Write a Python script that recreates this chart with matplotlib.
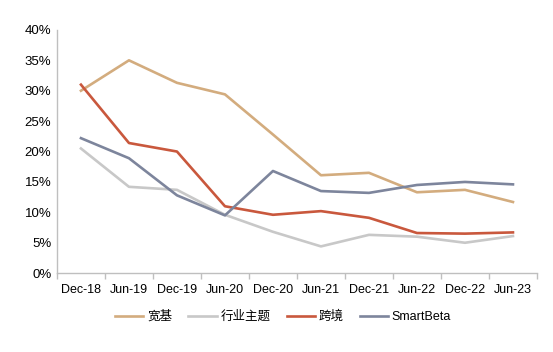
import numpy as np
import matplotlib.pyplot as plt
from matplotlib.ticker import PercentFormatter

plt.rcParams['font.family'] = ['Liberation Sans', 'Noto Sans CJK SC', 'DejaVu Sans']

# data
dates = ['Dec-18', 'Jun-19', 'Dec-19', 'Jun-20', 'Dec-20',
         'Jun-21', 'Dec-21', 'Jun-22', 'Dec-22', 'Jun-23']
broad = [30.0, 35.0, 31.3, 29.4, 22.8, 16.1, 16.5, 13.3, 13.7, 11.7]
sector = [20.5, 14.2, 13.7, 9.6, 6.8, 4.4, 6.3, 6.0, 5.0, 6.1]
cross = [31.0, 21.4, 20.0, 11.0, 9.6, 10.2, 9.1, 6.6, 6.5, 6.7]
smart = [22.2, 18.9, 12.8, 9.5, 16.8, 13.5, 13.2, 14.5, 15.0, 14.6]

series = [('宽基', broad, '#D3AC7E'),
          ('行业主题', sector, '#C8C8C8'),
          ('跨境', cross, '#C9583D'),
          ('SmartBeta', smart, '#7D859C')]

fig = plt.figure(figsize=(5.53, 3.52), dpi=100)
ax = fig.add_axes([0.103, 0.224, 0.868, 0.691])

x = np.arange(len(dates))
for name, vals, c in series:
    ax.plot(x, vals, color=c, lw=1.9, label=name)

ax.set_xlim(-0.5, len(dates) - 0.5)
ax.set_ylim(0, 40)
ax.set_yticks(np.arange(0, 41, 5))
ax.yaxis.set_major_formatter(PercentFormatter(decimals=0))
ax.set_xticks(x)
ax.set_xticklabels(dates)
ax.set_xticks(np.arange(-0.5, len(dates), 1), minor=True)
ax.tick_params(axis='x', which='major', length=0, pad=8, labelsize=9)
ax.tick_params(axis='x', which='minor', length=4, color='#BFBFBF', width=1)
ax.tick_params(axis='y', length=0, pad=4, labelsize=9.5)

for s in ['top', 'right']:
    ax.spines[s].set_visible(False)
for s in ['left', 'bottom']:
    ax.spines[s].set_color('#BFBFBF')
    ax.spines[s].set_linewidth(1)

fig.legend(loc='center', bbox_to_anchor=(0.512, 0.1), ncol=4, frameon=False,
           fontsize=9, handlelength=2.25, handletextpad=0.3, columnspacing=1.3)

fig.savefig('out.png', dpi=100)
